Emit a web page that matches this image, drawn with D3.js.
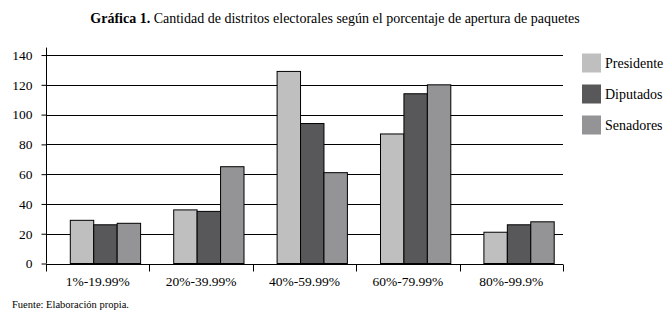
<!DOCTYPE html>
<html>
<head>
<meta charset="utf-8">
<script src="https://cdn.jsdelivr.net/npm/d3@7"></script>
<style>
    body { margin: 0; background: #fff; }
    svg text { font-family: "Liberation Serif", "DejaVu Serif", serif; fill: #000; }
</style>
</head>
<body>
<svg id="chart" width="669" height="315"></svg>
<script>
const categories = ['1%-19.99%', '20%-39.99%', '40%-59.99%', '60%-79.99%', '80%-99.9%'];
const seriesNames = ['Presidente', 'Diputados', 'Senadores'];
const presidente = [29, 36, 129, 87, 21];
const diputados = [26, 35, 94, 114, 26];
const senadores = [27, 65, 61, 120, 28];
const yTicks = [0, 20, 40, 60, 80, 100, 120, 140];

const seriesValues = [presidente, diputados, senadores];
const colors = ['#bfbfbf', '#58585a', '#949496'];

const MARGIN = {top: 47.6, left: 46, right: 106, bottom: 51.5};
const WIDTH = 669, HEIGHT = 315;

const svg = d3.select('#chart');

// title
const title = svg.append('text')
    .attr('x', 335)
    .attr('y', 23)
    .attr('text-anchor', 'middle')
    .style('font-size', '14px');
title.append('tspan').style('font-weight', 'bold').text('Gráfica 1.');
title.append('tspan').text(' Cantidad de distritos electorales según el porcentaje de apertura de paquetes');

const xScale = d3.scaleBand()
    .domain(categories)
    .range([MARGIN.left, WIDTH - MARGIN.right]);

// bars sit a little right of the band centre, as in the original
const x1 = d3.scaleBand()
    .domain(seriesNames)
    .range([24.3, xScale.bandwidth() - 8.8]);

const yScale = d3.scaleLinear()
    .domain([0, 145])
    .range([HEIGHT - MARGIN.bottom, MARGIN.top]);

// gridlines
svg.append('g')
    .selectAll('line')
    .data(yTicks.filter(d => d > 0))
    .join('line')
    .attr('x1', MARGIN.left)
    .attr('x2', WIDTH - MARGIN.right)
    .attr('y1', d => Math.round(yScale(d)) + 0.5)
    .attr('y2', d => Math.round(yScale(d)) + 0.5)
    .attr('stroke', '#000')
    .attr('stroke-width', 1);

// bars
const table = categories.map((c, i) => ({
    category: c,
    values: seriesNames.map((s, j) => ({series: s, value: seriesValues[j][i], color: colors[j]}))
}));

svg.append('g')
    .selectAll('g')
    .data(table)
    .join('g')
    .attr('transform', d => `translate(${xScale(d.category)},0)`)
    .selectAll('rect')
    .data(d => d.values)
    .join('rect')
    .attr('x', d => x1(d.series))
    .attr('y', d => yScale(d.value))
    .attr('width', x1.bandwidth())
    .attr('height', d => yScale(0) - yScale(d.value))
    .attr('fill', d => d.color)
    .attr('stroke', '#000')
    .attr('stroke-width', 1);

// y axis
const yAxis = d3.axisLeft(yScale)
    .tickValues(yTicks)
    .tickSize(5)
    .tickPadding(9);
const gy = svg.append('g')
    .attr('transform', `translate(${MARGIN.left + 0.5},0)`)
    .call(yAxis);
gy.select('.domain').attr('d', `M0,${yScale(145)}V${yScale(0)}`);
gy.selectAll('text').style('font-size', '13.5px').style('font-family', '"Liberation Serif", serif');

// x axis
const xAxis = d3.axisBottom(xScale)
    .tickSize(0)
    .tickPadding(12);
const gx = svg.append('g')
    .attr('transform', `translate(0,${Math.round(yScale(0)) + 0.5})`)
    .call(xAxis);
gx.select('.domain').attr('d', `M${MARGIN.left},0H${WIDTH - MARGIN.right}`);
gx.selectAll('text').style('font-size', '13.5px').style('font-family', '"Liberation Serif", serif');
gx.selectAll('.bound')
    .data(d3.range(categories.length + 1))
    .join('line')
    .attr('class', 'bound')
    .attr('x1', i => Math.round(MARGIN.left + i * xScale.step()) + 0.5)
    .attr('x2', i => Math.round(MARGIN.left + i * xScale.step()) + 0.5)
    .attr('y1', 0)
    .attr('y2', 7)
    .attr('stroke', '#000');

// legend
const legend = svg.append('g')
    .selectAll('g')
    .data(seriesNames)
    .join('g')
    .attr('transform', (d, i) => `translate(582,${53.5 + i * 31})`);
legend.append('rect')
    .attr('width', 19)
    .attr('height', 19)
    .attr('fill', (d, i) => colors[i]);
legend.append('text')
    .attr('x', 23)
    .attr('y', 14.5)
    .style('font-size', '14px')
    .text(d => d);

// source
svg.append('text')
    .attr('x', 12)
    .attr('y', 308)
    .style('font-size', '10.5px')
    .text('Fuente: Elaboración propia.');
</script>
</body>
</html>
